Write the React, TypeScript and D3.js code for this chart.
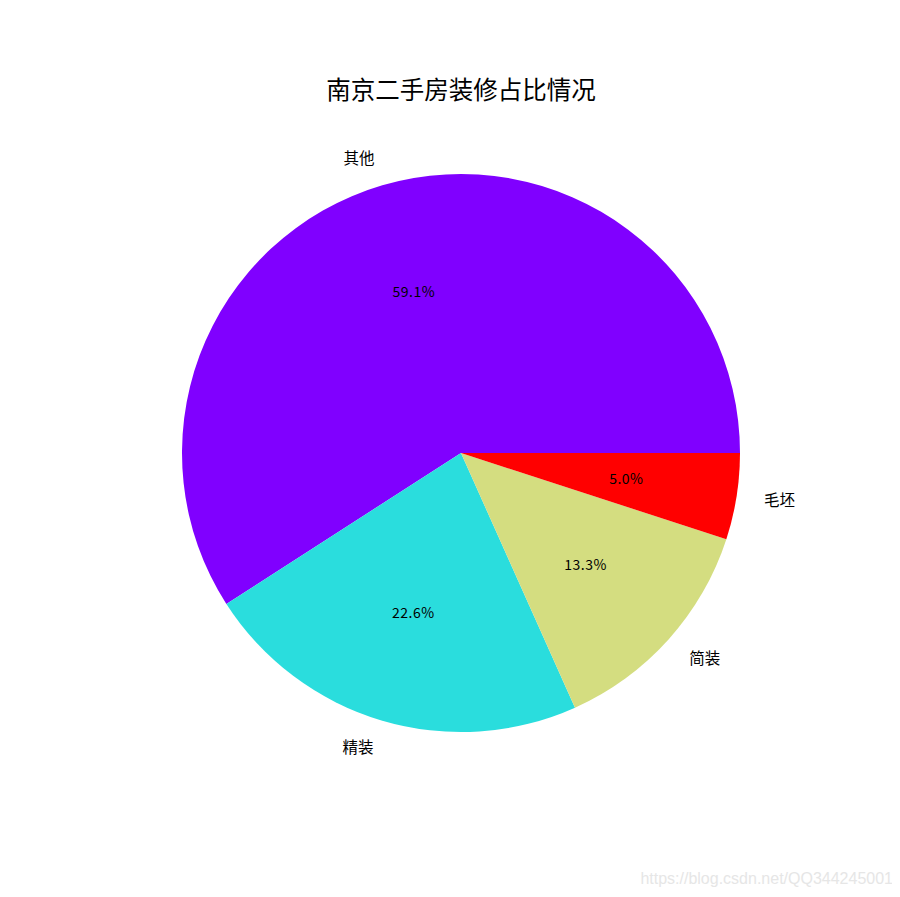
import { arc, pie, PieArcDatum } from "d3";

const width = 900;
const height = 897;

// decoration categories and their shares (%)
const labels = ["其他", "精装", "简装", "毛坯"];
const shares = [59.1, 22.6, 13.3, 5.0];
const colours = ["#8000ff", "#2adddd", "#d4dd80", "#ff0000"];

const cx = 461;
const cy = 453;
const radius = 279;

const font = "'Noto Sans CJK SC', 'DejaVu Sans', sans-serif";

export default function App() {
  // matplotlib style: start at 3 o'clock, go counterclockwise
  const slices = pie<number>()
    .sort(null)
    .startAngle(Math.PI / 2)
    .endAngle(Math.PI / 2 - 2 * Math.PI)(shares);

  const sliceArc = arc<PieArcDatum<number>>().innerRadius(0).outerRadius(radius);

  const at = (d: PieArcDatum<number>, r: number) => {
    const a = (d.startAngle + d.endAngle) / 2;
    return { x: Math.sin(a) * r, y: -Math.cos(a) * r };
  };

  return (
    <svg
      width={width}
      height={height}
      style={{ display: "block", margin: "-8px", background: "#fff" }}
    >
      <text
        x={cx}
        y={99}
        textAnchor="middle"
        fontFamily={font}
        fontSize={24.5}
        fill="#000"
      >
        南京二手房装修占比情况
      </text>
      <g transform={`translate(${cx},${cy})`}>
        {slices.map((d, i) => (
          <path key={labels[i]} d={sliceArc(d) ?? ""} fill={colours[i]} />
        ))}
        {slices.map((d, i) => {
          const p = at(d, radius * 1.1);
          return (
            <text
              key={`l${i}`}
              x={p.x}
              y={p.y}
              dy="0.35em"
              textAnchor={p.x > 0 ? "start" : "end"}
              fontFamily={font}
              fontSize={15.5}
              fill="#000"
            >
              {labels[i]}
            </text>
          );
        })}
        {slices.map((d, i) => {
          const p = at(d, radius * 0.6);
          return (
            <text
              key={`p${i}`}
              x={p.x}
              y={p.y}
              dy="0.35em"
              textAnchor="middle"
              fontFamily={font}
              fontSize={14}
              letterSpacing={0.5}
              fill="#000"
            >
              {`${shares[i].toFixed(1)}%`}
            </text>
          );
        })}
      </g>
      <text
        x={893}
        y={884}
        textAnchor="end"
        fontFamily="'Liberation Sans', Arial, sans-serif"
        fontSize={16}
        fill="#e6e6e6"
      >
        https://blog.csdn.net/QQ344245001
      </text>
    </svg>
  );
}
